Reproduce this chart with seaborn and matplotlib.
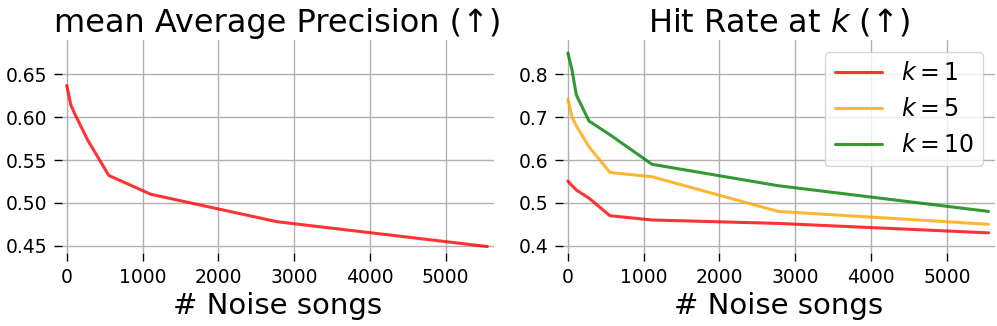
import numpy as np
import pandas as pd
import matplotlib
matplotlib.use('Agg')
import matplotlib.pyplot as plt
import seaborn as sns

# noise songs added to the database
noise = [0, 55, 111, 278, 555, 1110, 2775, 5550]

map_vals = [0.637, 0.614, 0.603, 0.573, 0.532, 0.510, 0.478, 0.449]

hit_k1 = [0.551, 0.540, 0.530, 0.511, 0.470, 0.460, 0.452, 0.430]
hit_k5 = [0.742, 0.700, 0.680, 0.631, 0.571, 0.561, 0.480, 0.450]
hit_k10 = [0.850, 0.810, 0.752, 0.691, 0.659, 0.590, 0.540, 0.480]

k_labels = ['$k = 1$', '$k = 5$', '$k = 10$']
colors = ['red', 'orange', 'green']

sns.set_style('white', rc={'text.color': 'black', 'axes.labelcolor': 'black',
                           'xtick.color': 'black', 'ytick.color': 'black'})
plt.rcParams['font.family'] = ['DejaVu Sans']

df_map = pd.DataFrame({'noise': noise, 'map': map_vals})
df_hit = pd.DataFrame({
    'noise': noise * 3,
    'hit': hit_k1 + hit_k5 + hit_k10,
    'k': [k_labels[0]] * len(noise) + [k_labels[1]] * len(noise) + [k_labels[2]] * len(noise),
})

fig, axes = plt.subplots(1, 2, figsize=(9.97, 3.26), dpi=100)
fig.subplots_adjust(left=0.062, right=0.998, top=0.877, bottom=0.224, wspace=0.16)

ax = axes[0]
sns.lineplot(data=df_map, x='noise', y='map', color='red', alpha=0.8, linewidth=2.2, ax=ax)
ax.set_title('mean Average Precision (↑)', fontsize=23)
ax.set_ylim(0.4415, 0.69)
ax.set_yticks([0.45, 0.50, 0.55, 0.60, 0.65])

ax = axes[1]
sns.lineplot(data=df_hit, x='noise', y='hit', hue='k', palette=colors, alpha=0.8,
             linewidth=2.2, ax=ax)
ax.set_title('Hit Rate at $k$ (↑)', fontsize=23)
ax.set_ylim(0.383, 0.88)
ax.set_yticks([0.4, 0.5, 0.6, 0.7, 0.8])
ax.legend(title=None, fontsize=17, loc='upper right', framealpha=0.8, edgecolor='#cccccc')

for ax in axes:
    ax.set_xlim(-65, 5635)
    ax.set_xticks([0, 1000, 2000, 3000, 4000, 5000])
    ax.set_xlabel('# Noise songs', fontsize=21)
    ax.set_ylabel('')
    ax.grid(True, color='#b0b0b0', linewidth=1)
    ax.tick_params(axis='both', labelsize=13.5, length=6, width=1, pad=4.5,
                   left=True, bottom=True)
    sns.despine(ax=ax, left=True, bottom=True)

fig.savefig('out.png', dpi=100)
